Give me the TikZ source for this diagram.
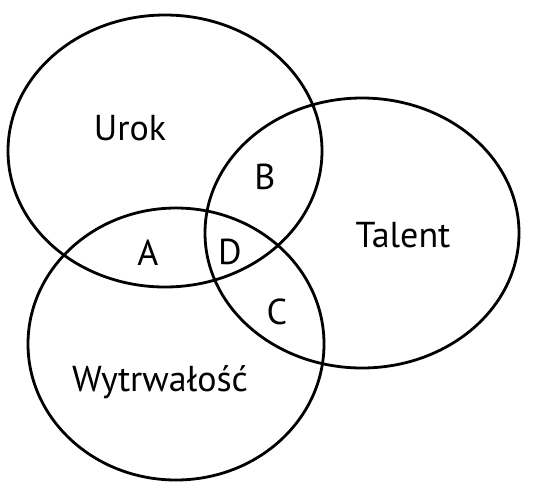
\documentclass[tikz,border=0pt]{standalone}
\usepackage{fontspec}
\setmainfont{PT Sans}
\usepackage{tikz}
\usetikzlibrary{positioning}

\begin{document}
\begin{tikzpicture}[x=1pt,y=-1pt]
  \tikzstyle{set}=[draw,line width=2.8pt]
  \tikzstyle{lbl}=[font=\fontsize{36}{38}\selectfont]
  \useasboundingbox (0,0) rectangle (543,483);
  % the three sets
  \draw[set] (165,151) ellipse [x radius=157,y radius=136];
  \draw[set] (362,233) ellipse [x radius=157,y radius=135];
  \draw[set] (176,344) ellipse [x radius=148,y radius=136];
  % names of the sets
  \node[lbl] (urok) at (130,128) {Urok};
  \node[lbl] (talent) at (403,235) {Talent};
  \node[lbl] (wytr) at (160,382) {Wytrwałość};
  % overlaps
  \node[lbl] (a) at (148,253) {A};
  \node[lbl] (b) at (265,177) {B};
  \node[lbl] (c) at (277,312) {C};
  \node[lbl] (d) at (230,252) {D};
\end{tikzpicture}
\end{document}
